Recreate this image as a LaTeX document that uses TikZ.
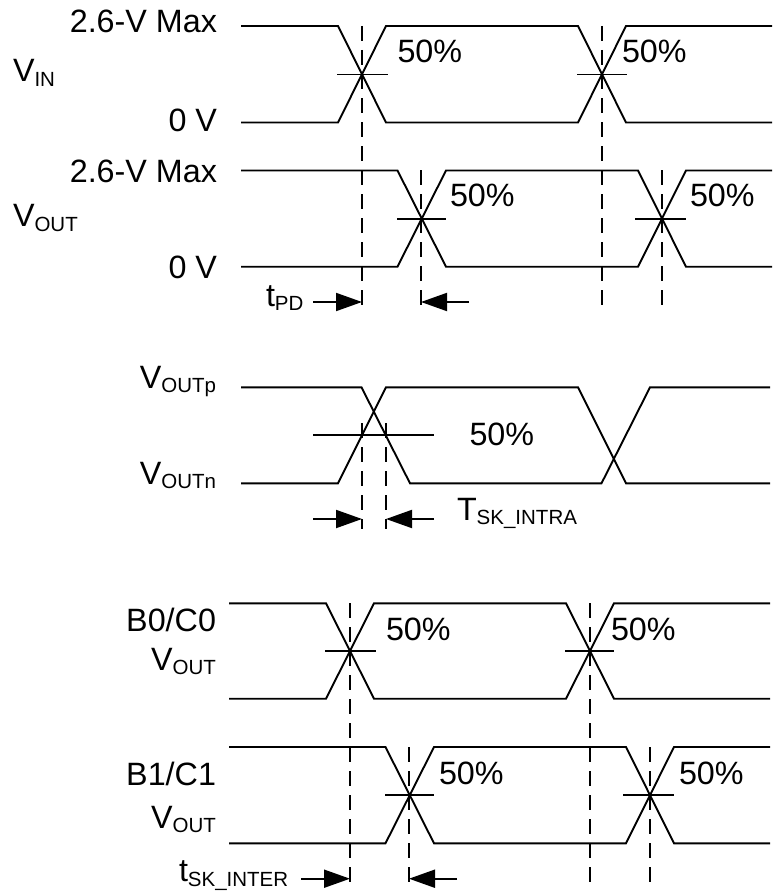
\documentclass[tikz,border=0pt]{standalone}
\usepackage{fontspec}
\setmainfont{Liberation Sans}
\usetikzlibrary{arrows.meta}
\newcommand{\subt}[1]{\raisebox{-4.5pt}{\fontsize{20.5}{21}\selectfont #1}}
\tikzset{
  wave/.style={line width=1.9pt,black,line join=miter},
  tick/.style={line width=1.9pt,black},
  guide/.style={line width=1.9pt,black,dash pattern=on 15pt off 9pt},
  dim/.style={line width=1.9pt,black,-{Triangle[length=26pt,width=18pt]}},
  lab/.style={inner sep=0pt,outer sep=0pt,font=\fontsize{32.3}{34}\selectfont},
  labl/.style={lab,anchor=base west},
  labr/.style={lab,anchor=base east},
}
\begin{document}
\begin{tikzpicture}[x=1pt,y=-1pt]
\useasboundingbox[fill=white] (0,0) rectangle (772,891);
% VIN
\draw[wave] (241,26) -- (338,26) -- (386,122.5) -- (578,122.5) -- (626,26) -- (772,26);
\draw[wave] (241,122.5) -- (338,122.5) -- (386,26) -- (578,26) -- (626,122.5) -- (772,122.5);
\draw[tick] (337,74.5) -- (388,74.5);
\draw[tick] (577,74.5) -- (627,74.5);
% VOUT
\draw[wave] (241,170.5) -- (397.5,170.5) -- (446,266.7) -- (638,266.7) -- (686,170.5) -- (772,170.5);
\draw[wave] (241,266.7) -- (397.5,266.7) -- (446,170.5) -- (638,170.5) -- (686,266.7) -- (772,266.7);
\draw[tick] (397,218.6) -- (446,218.6);
\draw[tick] (635,218.6) -- (686,218.6);
% guides
\draw[guide] (362,26) -- (362,305);
\draw[guide] (602,26) -- (602,305);
\draw[guide] (421,170) -- (421,305);
\draw[guide] (662,170) -- (662,305);
% tPD arrows
\coordinate (pdA) at (313,302); \coordinate (pdB) at (362,302);
\coordinate (pdC) at (469,302); \coordinate (pdD) at (421,302);
\draw[dim] (pdA) -- (pdB);
\draw[dim] (pdC) -- (pdD);
% VOUTp/n
\draw[wave] (241,387.3) -- (361.5,387.3) -- (410,483.3) -- (601.5,483.3) -- (650,387.3) -- (770,387.3);
\draw[wave] (241,483.3) -- (338,483.3) -- (386,387.3) -- (578,387.3) -- (626,483.3) -- (770,483.3);
\draw[tick] (313,435.3) -- (434,435.3);
\draw[guide] (362,423) -- (362,529);
\draw[guide] (386,423) -- (386,529);
\coordinate (inA) at (313,519); \coordinate (inB) at (362,519);
\coordinate (inC) at (434,519); \coordinate (inD) at (386,519);
\draw[dim] (inA) -- (inB);
\draw[dim] (inC) -- (inD);
% B0/C0
\draw[wave] (229,603.3) -- (326,603.3) -- (374,698.7) -- (566,698.7) -- (614,603.3) -- (770,603.3);
\draw[wave] (229,698.7) -- (326,698.7) -- (374,603.3) -- (566,603.3) -- (614,698.7) -- (770,698.7);
\draw[tick] (325,651) -- (376,651);
\draw[tick] (565,651) -- (614,651);
% B1/C1
\draw[wave] (229,747) -- (385.5,747) -- (434,843.3) -- (626,843.3) -- (674,747) -- (770,747);
\draw[wave] (229,843.3) -- (385.5,843.3) -- (434,747) -- (626,747) -- (674,843.3) -- (770,843.3);
\draw[tick] (385,795) -- (434,795);
\draw[tick] (623,795) -- (674,795);
% guides
\draw[guide] (350,603) -- (350,882);
\draw[guide] (590,603) -- (590,882);
\draw[guide] (409,747) -- (409,882);
\draw[guide] (650,747) -- (650,882);
\coordinate (teA) at (301,878.7); \coordinate (teB) at (350,878.7);
\coordinate (teC) at (457,878.7); \coordinate (teD) at (409,878.7);
\draw[dim] (teA) -- (teB);
\draw[dim] (teC) -- (teD);
% labels
\node[labr] (a1) at (217,33) {2.6-V Max};
\node[labr] (a2) at (217,131.7) {0 V};
\node[labl] (a3) at (13,81.7) {V\subt{IN}};
\node[labr] (b1) at (217,182.3) {2.6-V Max};
\node[labr] (b2) at (217,278) {0 V};
\node[labl] (b3) at (13,226.5) {V\subt{OUT}};
\node[labl] (p1) at (397.5,62.7) {50\%};
\node[labl] (p2) at (622,62.7) {50\%};
\node[labl] (p3) at (450,206.7) {50\%};
\node[labl] (p4) at (690,206.7) {50\%};
\node[labl] (t1) at (266,306) {t\subt{PD}};
\node[labr] (c1) at (216,388) {V\subt{OUTp}};
\node[labr] (c2) at (216,484) {V\subt{OUTn}};
\node[labl] (p5) at (469.5,445.3) {50\%};
\node[labl] (t2) at (457,520) {T\subt{SK\_INTRA}};
\node[labr] (d1) at (216,631.7) {B0/C0};
\node[labr] (d2) at (216,670) {V\subt{OUT}};
\node[labr] (e1) at (216,785.7) {B1/C1};
\node[labr] (e2) at (216,828) {V\subt{OUT}};
\node[labl] (p6) at (386,640) {50\%};
\node[labl] (p7) at (611,640) {50\%};
\node[labl] (p8) at (439,784) {50\%};
\node[labl] (p9) at (679,784) {50\%};
\node[labl] (t3) at (179,881.7) {t\subt{SK\_INTER}};
\end{tikzpicture}
\end{document}
